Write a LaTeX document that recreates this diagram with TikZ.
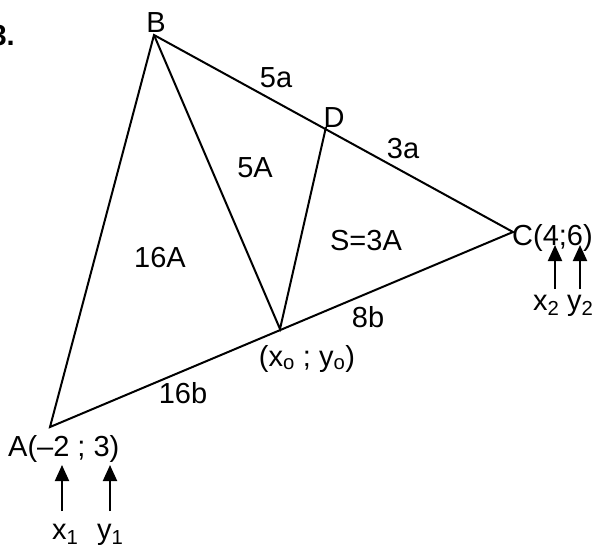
\documentclass[tikz,border=0pt]{standalone}
\usepackage{fontspec}
\setmainfont{Liberation Sans}
\usetikzlibrary{arrows.meta}

\begin{document}
\begin{tikzpicture}[x=1pt,y=-1pt,
    side/.style={line width=2pt,line join=miter},
    lbl/.style={font=\fontsize{29}{34}\selectfont,inner sep=0pt,anchor=base},
    up/.style={line width=2pt,-{Triangle[length=16pt,width=14pt]}}]
    \useasboundingbox (0,0) rectangle (601,550);
    % vertices
    \coordinate (A) at (50,427);
    \coordinate (B) at (154,35);
    \coordinate (C) at (513,232);
    \coordinate (D) at (326,127);
    \coordinate (X) at (280,329);
    % triangle and cevians
    \draw[side] (A) -- (B) -- (C) -- cycle;
    \draw[side] (B) -- (X) -- (D);
    % problem number
    \node[lbl,anchor=base east,font=\fontsize{29}{34}\selectfont\bfseries] (num) at (15,45) {3.};
    % vertex labels
    \node[lbl] (labB) at (156,32) {B};
    \node[lbl] (labD) at (334,127) {D};
    \node[lbl,anchor=base west] (labA) at (8,456) {A(--2 ; 3)};
    \node[lbl,anchor=base west] (labC) at (512,245) {C(4;6)};
    \node[lbl] (labX) at (307,366) {(x\textsubscript{o} ; y\textsubscript{o})};
    % segment labels
    \node[lbl] (s5a) at (276,87) {5a};
    \node[lbl] (s3a) at (403,158) {3a};
    \node[lbl] (s8b) at (368,327) {8b};
    \node[lbl] (s16b) at (183,403) {16b};
    % area labels
    \node[lbl] (a16) at (160,267) {16A};
    \node[lbl] (a5) at (255,177) {5A};
    \node[lbl] (a3) at (366,250) {S=3A};
    % coordinate pointers
    \node[lbl,anchor=base west] (x1) at (52,539) {x\textsubscript{1}};
    \node[lbl,anchor=base west] (y1) at (97,539) {y\textsubscript{1}};
    \node[lbl,anchor=base west] (x2) at (533,310) {x\textsubscript{2}};
    \node[lbl,anchor=base west] (y2) at (567,310) {y\textsubscript{2}};
    \coordinate (x1a) at (62,511); \coordinate (x1b) at (62,465);
    \coordinate (y1a) at (110,511); \coordinate (y1b) at (110,465);
    \coordinate (x2a) at (555,289); \coordinate (x2b) at (555,245);
    \coordinate (y2a) at (580,289); \coordinate (y2b) at (580,245);
    \draw[up] (x1a) -- (x1b);
    \draw[up] (y1a) -- (y1b);
    \draw[up] (x2a) -- (x2b);
    \draw[up] (y2a) -- (y2b);
\end{tikzpicture}
\end{document}
